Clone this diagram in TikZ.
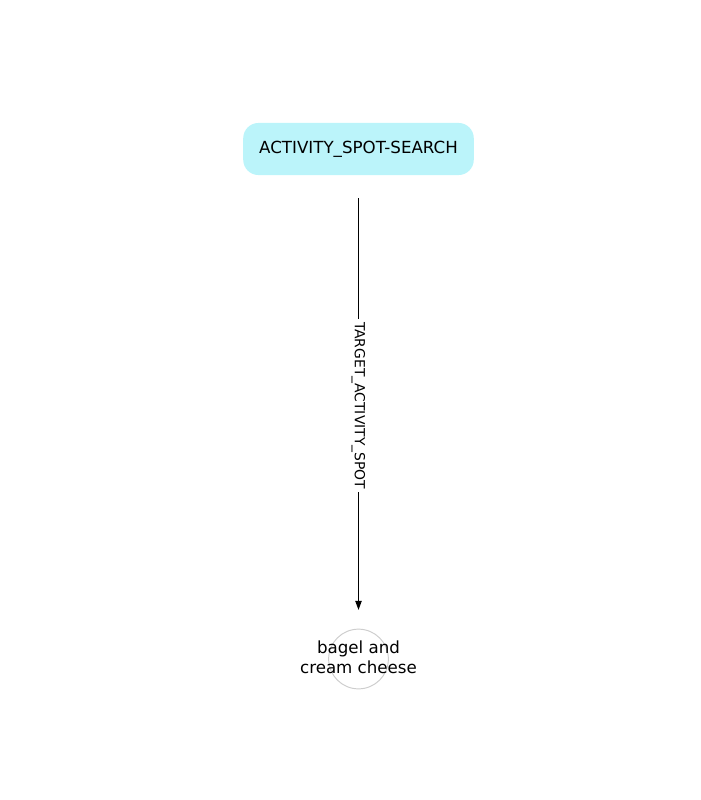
\documentclass[tikz,border=0pt]{standalone}
\usepackage{fontspec}
\setmainfont{DejaVu Sans}
\usetikzlibrary{arrows.meta}
\definecolor{boxcyan}{RGB}{187,244,250}
\definecolor{ringgray}{RGB}{205,205,205}
\tikzset{
	px/.style={x=0.72pt,y=-0.72pt},
	search/.style={rectangle,rounded corners=11pt,fill=boxcyan,minimum width=166pt,minimum height=37.5pt,font=\fontsize{12}{14.4}\selectfont},
	leaf/.style={circle,draw=ringgray,line width=0.7pt,minimum size=43pt,inner sep=0pt},
	rel/.style={-{Triangle[length=6.5pt,width=4.6pt]},line width=0.7pt},
	rellabel/.style={fill=white,rotate=-90,inner sep=2pt,font=\fontsize{10}{12}\selectfont}
}
\begin{document}
\begin{tikzpicture}[px]
\useasboundingbox (0,0) rectangle (700,800);
\node[search](spot) at (358.5,149){ACTIVITY\_SPOT-SEARCH};
\node[leaf,label={[align=center,yshift=1.5pt,font=\fontsize{12}{14.4}\selectfont]center:bagel and\\cream cheese}](bagel) at (358.5,659){};
\draw[rel,shorten <=16.5pt,shorten >=13.5pt] (spot) -- node[pos=0.508,rellabel]{TARGET\_ACTIVITY\_SPOT} (bagel);
\end{tikzpicture}
\end{document}
